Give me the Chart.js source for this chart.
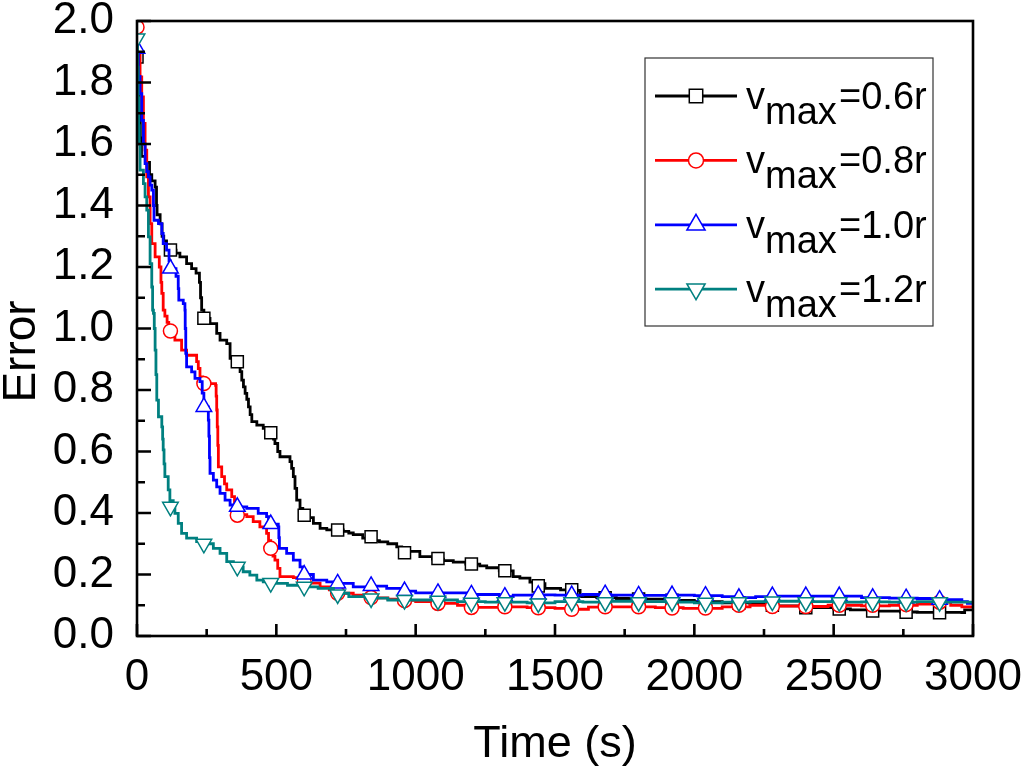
<!DOCTYPE html>
<html>
<head>
<meta charset="utf-8">
<script src="https://cdn.jsdelivr.net/npm/chart.js"></script>
<style>
  html, body { margin: 0; padding: 0; background: #fff; }
  #wrap { width: 1024px; height: 772px; position: relative; }
</style>
</head>
<body>
<div id="wrap"><canvas id="c"></canvas></div>
<script>
// ---------- DATA ----------
const seriesNames = ['0.6r', '0.8r', '1.0r', '1.2r'];
const xTitle = 'Time (s)';
const yTitle = 'Error';

// line vertices (time, error) per series
const t06 = [0,4,8,12,16,30,45,53,65,70,72,83,90,96,106,115,140,154,178,196,212,224,228,232,240,262,286,298,322,334,360,370,376,382,388,394,400,406,412,430,453,475,490,495,505,513,549,555,561,567,573,585,595,610,633,657,681,740,760,776,810,830,870,900,932,950,1015,1060,1100,1135,1180,1230,1255,1300,1350,1374,1410,1422,1464,1520,1570,1590,1650,1720,1800,1900,2000,2100,2200,2300,2400,2500,2560,2640,2740,2800,2900,2960,2970,3000];
const e06 = [1.88,1.80,1.70,1.62,1.56,1.54,1.50,1.48,1.46,1.40,1.37,1.34,1.30,1.285,1.27,1.255,1.245,1.233,1.211,1.195,1.18,1.15,1.10,1.06,1.033,1.016,0.984,0.962,0.951,0.903,0.892,0.86,0.832,0.81,0.789,0.77,0.745,0.72,0.697,0.686,0.675,0.661,0.64,0.626,0.60,0.583,0.567,0.545,0.518,0.48,0.442,0.415,0.40,0.385,0.366,0.35,0.345,0.34,0.335,0.33,0.318,0.31,0.306,0.30,0.29,0.275,0.258,0.25,0.245,0.24,0.234,0.228,0.222,0.212,0.193,0.188,0.175,0.17,0.155,0.150,0.148,0.128,0.125,0.122,0.12,0.116,0.112,0.108,0.103,0.098,0.092,0.088,0.085,0.081,0.078,0.077,0.077,0.076,0.085,0.085];

const t08 = [0,5,11,17,23,29,35,41,47,53,65,80,86,89,94,100,108,114,136,160,178,214,220,226,235,282,284,286,288,290,292,304,314,322,340,350,356,394,417,441,465,472,480,488,495,505,513,561,585,600,657,690,717,776,840,900,956,1000,1100,1150,1200,1300,1400,1500,1560,1620,1700,1860,1960,2100,2200,2300,2400,2480,2600,2700,2800,2860,2920,2960,3000];
const e08 = [1.98,1.90,1.818,1.753,1.667,1.58,1.493,1.428,1.341,1.276,1.233,1.2,1.15,1.114,1.06,1.04,1.02,0.99,0.962,0.93,0.913,0.892,0.87,0.843,0.821,0.815,0.78,0.735,0.68,0.62,0.55,0.518,0.495,0.475,0.453,0.42,0.395,0.388,0.372,0.355,0.334,0.31,0.285,0.26,0.247,0.22,0.193,0.19,0.176,0.172,0.16,0.15,0.139,0.133,0.124,0.12,0.116,0.112,0.106,0.10,0.093,0.095,0.092,0.09,0.087,0.094,0.095,0.092,0.09,0.095,0.10,0.097,0.096,0.10,0.098,0.10,0.104,0.11,0.10,0.095,0.095];

const t10 = [0,5,11,17,23,29,35,41,47,53,59,61,77,89,94,106,115,120,140,148,150,166,172,173,175,178,196,208,226,234,240,256,258,260,262,274,286,298,316,334,360,394,435,465,472,507,509,511,537,561,585,595,605,633,681,720,776,840,896,950,1000,1100,1200,1300,1350,1420,1500,1600,1700,1800,1900,2000,2100,2150,2220,2300,2400,2500,2600,2700,2800,2880,2960,2980,3000];
const e10 = [1.91,1.82,1.764,1.677,1.60,1.536,1.51,1.493,1.466,1.45,1.40,1.352,1.341,1.309,1.276,1.255,1.22,1.195,1.17,1.13,1.092,1.081,1.06,1.0,0.919,0.875,0.859,0.838,0.827,0.79,0.745,0.702,0.65,0.58,0.529,0.507,0.485,0.464,0.442,0.426,0.42,0.415,0.399,0.388,0.364,0.355,0.32,0.285,0.269,0.247,0.225,0.21,0.2,0.182,0.176,0.171,0.16,0.162,0.155,0.146,0.14,0.14,0.135,0.128,0.133,0.134,0.133,0.135,0.133,0.132,0.133,0.131,0.128,0.125,0.128,0.13,0.13,0.13,0.125,0.123,0.122,0.118,0.112,0.106,0.106];

const t12 = [0,2,4,6,8,11,23,29,35,41,47,53,56,59,62,65,68,71,77,89,92,94,97,100,112,118,130,136,148,160,178,214,236,274,298,322,346,360,381,405,430,453,500,540,600,650,705,760,820,900,1000,1150,1250,1400,1500,1600,1700,1800,1900,2000,2100,2200,2300,2400,2500,2600,2700,2800,2900,3000];
const e12 = [1.943,1.85,1.75,1.66,1.60,1.515,1.471,1.428,1.385,1.298,1.211,1.135,1.06,1.049,1.0,0.93,0.85,0.767,0.713,0.68,0.64,0.605,0.56,0.518,0.475,0.44,0.42,0.399,0.366,0.334,0.318,0.307,0.30,0.285,0.269,0.242,0.231,0.225,0.209,0.198,0.182,0.176,0.171,0.165,0.16,0.155,0.139,0.128,0.123,0.117,0.117,0.112,0.11,0.108,0.112,0.11,0.113,0.112,0.11,0.108,0.11,0.112,0.113,0.112,0.11,0.111,0.11,0.112,0.11,0.11];

// symbol positions (every 120 s)
const markerTimes = [0,120,240,360,480,600,720,840,960,1080,1200,1320,1440,1560,1680,1800,1920,2040,2160,2280,2400,2520,2640,2760,2880];
const m06 = [1.883,1.255,1.033,0.892,0.661,0.393,0.345,0.323,0.271,0.252,0.234,0.212,0.163,0.150,0.124,0.12,0.116,0.11,0.107,0.10,0.092,0.088,0.081,0.077,0.076];
const m08 = [1.98,0.992,0.821,0.393,0.285,0.175,0.139,0.125,0.115,0.106,0.093,0.095,0.092,0.087,0.095,0.095,0.091,0.091,0.10,0.096,0.096,0.10,0.10,0.102,0.11];
const m10 = [1.91,1.195,0.745,0.42,0.364,0.20,0.171,0.163,0.146,0.14,0.135,0.128,0.134,0.133,0.136,0.132,0.133,0.131,0.124,0.13,0.13,0.13,0.124,0.123,0.118];
const m12 = [1.943,0.42,0.30,0.225,0.172,0.16,0.135,0.122,0.117,0.115,0.108,0.11,0.106,0.11,0.11,0.11,0.11,0.108,0.11,0.112,0.11,0.11,0.11,0.11,0.11];

const xTickMin = 0, xTickMax = 3000, xTickStep = 500;
const yTickMin = 0, yTickMax = 2.0, yTickStep = 0.2;

// ---------- STYLE ----------
const colors = ['#000000', '#FF0000', '#0000FF', '#008080'];
const symbols = [
  { style: 'rect', rotation: 0, radius: 8.5 },
  { style: 'circle', rotation: 0, radius: 7 },
  { style: 'triangle', rotation: 0, radius: 9 },
  { style: 'triangle', rotation: 180, radius: 9 }
];
const FONT = "'Liberation Sans', Arial, Helvetica, sans-serif";

const lineT = [t06, t08, t10, t12];
const lineE = [e06, e08, e10, e12];
const markE = [m06, m08, m10, m12];

const datasets = [];
for (let i = 0; i < 4; i++) {
  datasets.push({
    label: 'vmax=' + seriesNames[i],
    data: lineT[i].map((t, k) => ({ x: t, y: lineE[i][k] })),
    borderColor: colors[i],
    borderWidth: 2.8,
    pointRadius: 0,
    stepped: true,
    fill: false,
    order: (3 - i) * 2 + 1
  });
  datasets.push({
    label: 'symbols ' + seriesNames[i],
    data: markerTimes.map((t, k) => ({ x: t, y: markE[i][k] })),
    showLine: false,
    borderColor: colors[i],
    backgroundColor: '#ffffff',
    pointStyle: symbols[i].style,
    pointRotation: symbols[i].rotation,
    pointRadius: symbols[i].radius,
    pointBorderWidth: 1.5,
    pointBackgroundColor: '#ffffff',
    pointBorderColor: colors[i],
    clip: 0,
    order: (3 - i) * 2
  });
}

function drawSymbol(ctx, sym, x, y, r) {
  ctx.beginPath();
  if (sym.style === 'rect') {
    const s = r * Math.SQRT1_2;
    ctx.rect(x - s, y - s, 2 * s, 2 * s);
  } else if (sym.style === 'circle') {
    ctx.arc(x, y, r, 0, Math.PI * 2);
  } else {
    const rot = sym.rotation * Math.PI / 180;
    for (let k = 0; k < 3; k++) {
      const a = rot + k * 2 * Math.PI / 3;
      const px = x + Math.sin(a) * r, py = y - Math.cos(a) * r;
      if (k === 0) ctx.moveTo(px, py); else ctx.lineTo(px, py);
    }
    ctx.closePath();
  }
  ctx.fill();
  ctx.stroke();
}

const framePlugin = {
  id: 'frame',
  afterDatasetsDraw(chart) {
    const { ctx, chartArea: a, scales: { x, y } } = chart;
    ctx.save();
    ctx.strokeStyle = '#000';
    ctx.lineWidth = 2.6;
    ctx.lineCap = 'butt';
    ctx.beginPath();
    const xt = x.ticks.map(t => t.value);
    for (let k = 0; k < xt.length; k++) {
      const px = x.getPixelForValue(xt[k]);
      ctx.moveTo(px, a.bottom); ctx.lineTo(px, a.bottom - 12);
      if (k < xt.length - 1) {
        const pm = x.getPixelForValue((xt[k] + xt[k + 1]) / 2);
        ctx.moveTo(pm, a.bottom); ctx.lineTo(pm, a.bottom - 7);
      }
    }
    const yt = y.ticks.map(t => t.value);
    for (let k = 0; k < yt.length; k++) {
      const py = y.getPixelForValue(yt[k]);
      ctx.moveTo(a.left, py); ctx.lineTo(a.left + 14, py);
      if (k < yt.length - 1) {
        const pm = y.getPixelForValue((yt[k] + yt[k + 1]) / 2);
        ctx.moveTo(a.left, pm); ctx.lineTo(a.left + 8, pm);
      }
    }
    ctx.stroke();
    ctx.strokeRect(a.left, a.top, a.right - a.left, a.bottom - a.top);
    ctx.restore();
  },
  afterDraw(chart) {
    const { ctx, chartArea: a } = chart;
    ctx.save();
    // y axis title
    ctx.fillStyle = '#000';
    ctx.font = '46px ' + FONT;
    ctx.textAlign = 'center';
    ctx.textBaseline = 'alphabetic';
    ctx.translate(35, (a.top + a.bottom) / 2 + 23);
    ctx.rotate(-Math.PI / 2);
    ctx.fillText(yTitle, 0, 0);
    ctx.restore();

    // legend
    ctx.save();
    const bx = a.right - 328, by = a.top + 37, bw = 288, bh = 268;
    ctx.fillStyle = '#fff';
    ctx.fillRect(bx, by, bw, bh);
    ctx.strokeStyle = '#333';
    ctx.lineWidth = 1.2;
    ctx.strokeRect(bx, by, bw, bh);
    for (let i = 0; i < 4; i++) {
      const ly = by + 38 + i * 64.4;
      ctx.strokeStyle = colors[i];
      ctx.lineWidth = 2.8;
      ctx.beginPath();
      ctx.moveTo(bx + 10, ly); ctx.lineTo(bx + 92, ly);
      ctx.stroke();
      ctx.fillStyle = '#fff';
      ctx.lineWidth = 1.5;
      const r = symbols[i].style === 'circle' ? 7.5 : (symbols[i].style === 'rect' ? 9.5 : 10.5);
      drawSymbol(ctx, symbols[i], bx + 51, ly, r);
      ctx.fillStyle = '#000';
      ctx.font = '38px ' + FONT;
      ctx.textAlign = 'left';
      ctx.textBaseline = 'alphabetic';
      const base = ly + 13;
      ctx.fillText('v', bx + 101, base);
      ctx.fillText('max', bx + 120, base + 15);
      ctx.fillText('=' + seriesNames[i], bx + 194, base);
    }
    ctx.restore();
  }
};

new Chart(document.getElementById('c'), {
  type: 'line',
  data: { datasets },
  plugins: [framePlugin],
  options: {
    responsive: true,
    maintainAspectRatio: false,
    animation: false,
    layout: { padding: { top: 21, right: 51, bottom: 0, left: 0 } },
    plugins: { legend: { display: false }, tooltip: { enabled: false } },
    scales: {
      x: {
        type: 'linear',
        min: xTickMin, max: xTickMax,
        grid: { display: false },
        border: { display: false },
        ticks: {
          stepSize: xTickStep, autoSkip: false, maxRotation: 0,
          color: '#000', padding: 7,
          font: { family: FONT, size: 44 },
          callback: (v) => String(v)
        },
        title: {
          display: true, text: xTitle, color: '#000',
          font: { family: FONT, size: 45 }, padding: { top: 0, bottom: 0 }
        },
        afterFit: (s) => { s.height = 136; s.paddingRight = 0; s.paddingLeft = 0; }
      },
      y: {
        type: 'linear',
        min: yTickMin, max: yTickMax,
        grid: { display: false },
        border: { display: false },
        ticks: {
          stepSize: yTickStep, autoSkip: false, color: '#000', padding: 15,
          font: { family: FONT, size: 44, lineHeight: 0.2 },
          callback: (v) => Number(v).toFixed(1)
        },
        afterFit: (s) => { s.width = 137; }
      }
    }
  }
});
</script>
</body>
</html>
